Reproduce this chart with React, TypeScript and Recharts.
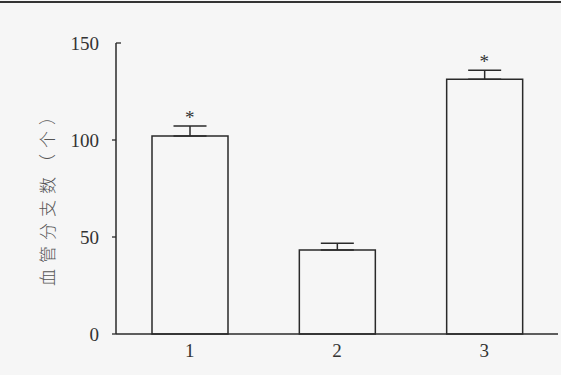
import React from 'react';
import { BarChart, Bar, XAxis, YAxis, ErrorBar, ReferenceDot } from 'recharts';

const groups = ['1', '2', '3'];
const branchCounts = [102, 43.3, 131.3];
const upperErrors = [5.2, 3.5, 4.6];
const marks = ['*', '', '*'];
const yTicks = [0, 50, 100, 150];

const data = groups.map((g, i) => ({
  group: g,
  value: branchCounts[i],
  err: [0, upperErrors[i]],
}));

const BG = '#f6f6f6';
const INK = '#2a2a2a';
const SERIF = '"Liberation Serif", "DejaVu Serif", serif';

const YTick = (props: any) => {
  const { x, y, payload } = props;
  const axisX = x + 4 + 10;
  const isTop = payload.value === 150;
  return (
    <g>
      {isTop ? (
        <line x1={axisX} x2={axisX + 5} y1={y} y2={y} stroke={INK} strokeWidth={1.3} />
      ) : (
        <line x1={axisX - 4} x2={axisX} y1={y} y2={y} stroke={INK} strokeWidth={1.3} />
      )}
      <text x={x - 3} y={y} dy="0.35em" textAnchor="end" fontFamily={SERIF} fontSize={19} fill="#333">
        {payload.value}
      </text>
    </g>
  );
};

const YLabel = () => (
  <text
    x={46}
    y={194}
    transform="rotate(-90 46 194)"
    textAnchor="middle"
    dominantBaseline="central"
    fontFamily='"Noto Sans CJK SC", sans-serif'
    fontWeight={300}
    fontSize={17}
    letterSpacing={6}
    fill="#555"
  >
    血管分支数（个）
  </text>
);

export default function App() {
  return (
    <div style={{ position: 'fixed', left: 0, top: 0, width: 561, height: 375, background: BG }}>
      <div style={{ position: 'absolute', left: 0, top: 1, width: 561, height: 2, background: '#333' }} />
      <BarChart
        width={561}
        height={375}
        data={data}
        margin={{ top: 43, right: 3, bottom: 11, left: 0 }}
      >
        <XAxis
          dataKey="group"
          height={30}
          axisLine={{ stroke: INK, strokeWidth: 1.5 }}
          tickLine={false}
          tickSize={0}
          tickMargin={10}
          tick={{ fontFamily: SERIF, fontSize: 19, fill: '#333' }}
        />
        <YAxis
          width={116}
          domain={[0, 150]}
          ticks={yTicks}
          interval={0}
          axisLine={{ stroke: INK, strokeWidth: 1.5 }}
          tickLine={false}
          tickSize={4}
          tickMargin={10}
          tick={<YTick />}
          label={{ content: () => <YLabel /> }}
        />
        <Bar dataKey="value" barSize={76} fill={BG} stroke={INK} strokeWidth={1.5} isAnimationActive={false}>
          <ErrorBar dataKey="err" width={16.5} stroke={INK} strokeWidth={1.5} isAnimationActive={false} />
        </Bar>
        {groups.map((g, i) =>
          marks[i] ? (
            <ReferenceDot
              key={g}
              x={g}
              y={branchCounts[i] + upperErrors[i]}
              r={0}
              fill="none"
              stroke="none"
              label={{ value: marks[i], position: 'top', offset: 2, fontFamily: SERIF, fontSize: 19, fill: '#333' }}
            />
          ) : null
        )}
      </BarChart>
    </div>
  );
}
